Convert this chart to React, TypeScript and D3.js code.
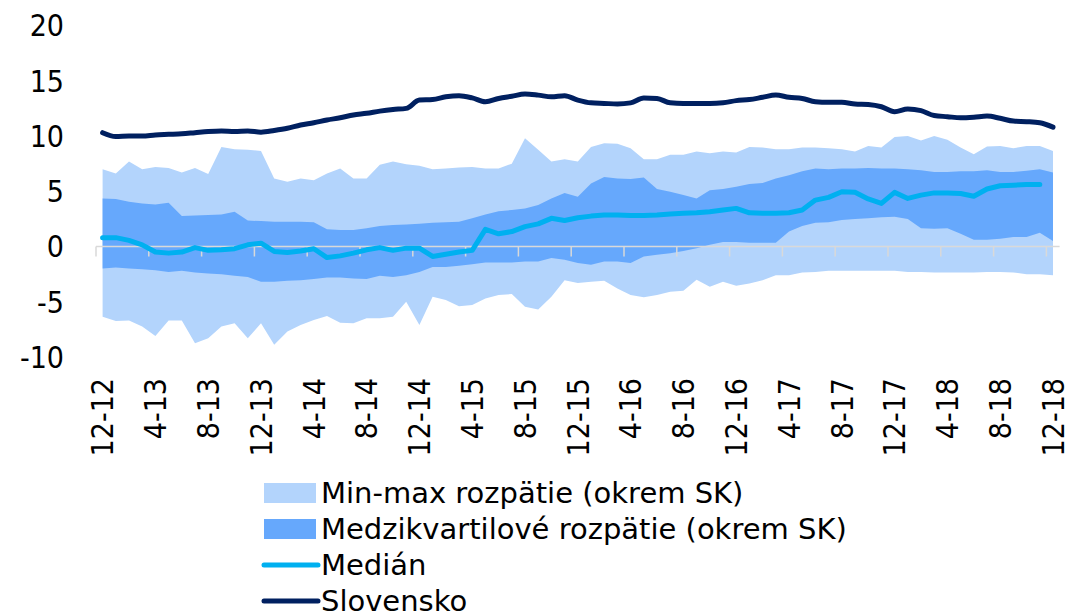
import React, { useEffect, useRef } from 'react';
import * as d3 from 'd3';

// monthly observations 12-2012 .. 12-2018
const months: string[] = [];
for (let y = 12; y <= 18; y++) {
  for (let m = 1; m <= 12; m++) {
    if (y === 12 && m < 12) continue;
    months.push(`${m}-${y}`);
  }
}

const rangeMax = [7.0, 6.6, 7.7, 7.0, 7.2, 7.1, 6.7, 7.1, 6.55, 9.0, 8.8, 8.75, 8.65, 6.15, 5.85, 6.15, 6.0, 6.6, 7.05, 6.15, 6.15, 7.4, 7.7, 7.45, 7.3, 7.0, 7.05, 7.15, 7.2, 7.05, 7.05, 7.5, 9.8, 8.75, 7.7, 7.9, 7.7, 9.0, 9.35, 9.3, 8.9, 7.9, 7.9, 8.3, 8.3, 8.6, 8.45, 8.6, 8.5, 9.0, 8.95, 8.8, 8.8, 8.95, 8.95, 8.9, 8.8, 8.6, 9.1, 8.95, 9.9, 10.0, 9.6, 10.0, 9.65, 8.95, 8.35, 9.05, 9.1, 8.9, 9.1, 9.1, 8.65];
const rangeMin = [-6.35, -6.75, -6.7, -7.25, -8.1, -6.7, -6.7, -8.75, -8.3, -7.25, -6.95, -8.3, -6.95, -8.9, -7.7, -7.1, -6.65, -6.3, -6.9, -6.95, -6.5, -6.5, -6.35, -5.0, -7.1, -4.55, -4.85, -5.4, -5.3, -4.7, -4.4, -4.3, -5.45, -5.7, -4.55, -3.05, -3.3, -3.2, -3.1, -3.8, -4.4, -4.6, -4.4, -4.1, -4.0, -3.0, -3.65, -3.2, -3.55, -3.35, -3.05, -2.6, -2.6, -2.35, -2.3, -2.2, -2.2, -2.2, -2.2, -2.2, -2.2, -2.3, -2.3, -2.35, -2.35, -2.35, -2.35, -2.3, -2.3, -2.35, -2.5, -2.5, -2.6];
const quart3 = [4.35, 4.3, 4.05, 3.9, 3.8, 3.95, 2.75, 2.8, 2.85, 2.9, 3.15, 2.35, 2.3, 2.25, 2.25, 2.25, 2.2, 1.55, 1.5, 1.5, 1.65, 1.85, 1.95, 2.0, 2.05, 2.15, 2.2, 2.25, 2.55, 2.9, 3.2, 3.3, 3.45, 3.75, 4.35, 4.85, 4.5, 5.7, 6.3, 6.15, 6.1, 6.25, 5.2, 4.95, 4.65, 4.35, 5.1, 5.2, 5.4, 5.65, 5.75, 6.15, 6.45, 6.8, 7.05, 7.0, 7.05, 7.05, 7.1, 7.05, 7.05, 7.0, 6.9, 6.75, 6.75, 6.8, 6.8, 6.9, 6.75, 6.75, 6.85, 7.0, 6.7];
const quart1 = [-2.0, -1.9, -2.0, -2.05, -2.15, -2.3, -2.2, -2.35, -2.45, -2.5, -2.65, -2.75, -3.2, -3.2, -3.1, -3.05, -2.95, -2.8, -2.8, -2.9, -2.95, -2.65, -2.75, -2.6, -2.3, -1.85, -1.85, -1.75, -1.6, -1.45, -1.45, -1.45, -1.35, -1.35, -1.05, -1.2, -1.5, -1.65, -1.35, -1.35, -1.5, -0.9, -0.75, -0.6, -0.4, -0.15, 0.15, 0.4, 0.4, 0.35, 0.35, 0.35, 1.35, 1.85, 2.15, 2.2, 2.4, 2.5, 2.55, 2.65, 2.7, 2.5, 1.65, 1.6, 1.65, 1.15, 0.6, 0.6, 0.7, 0.85, 0.85, 1.25, 0.5];
const median: (number | null)[] = [0.8, 0.8, 0.55, 0.15, -0.5, -0.6, -0.5, -0.1, -0.35, -0.3, -0.2, 0.15, 0.3, -0.45, -0.55, -0.4, -0.2, -1.0, -0.85, -0.6, -0.3, -0.1, -0.35, -0.15, -0.15, -0.9, -0.7, -0.5, -0.35, 1.55, 1.15, 1.35, 1.8, 2.05, 2.55, 2.35, 2.6, 2.75, 2.85, 2.85, 2.8, 2.8, 2.85, 2.95, 3.0, 3.05, 3.15, 3.3, 3.45, 3.05, 3.0, 3.0, 3.05, 3.3, 4.2, 4.45, 4.95, 4.9, 4.3, 3.9, 4.9, 4.35, 4.65, 4.85, 4.85, 4.8, 4.55, 5.2, 5.5, 5.55, 5.6, 5.6, null];
const slovensko = [10.3, 9.95, 10.0, 10.0, 10.1, 10.15, 10.2, 10.3, 10.4, 10.45, 10.4, 10.45, 10.35, 10.5, 10.7, 11.0, 11.2, 11.45, 11.65, 11.9, 12.05, 12.25, 12.4, 12.5, 13.25, 13.3, 13.55, 13.65, 13.45, 13.1, 13.4, 13.6, 13.8, 13.7, 13.55, 13.65, 13.25, 13.0, 12.95, 12.9, 13.0, 13.45, 13.4, 13.0, 12.95, 12.95, 12.95, 13.0, 13.2, 13.3, 13.5, 13.7, 13.5, 13.4, 13.1, 13.05, 13.05, 12.9, 12.85, 12.65, 12.2, 12.45, 12.3, 11.85, 11.75, 11.65, 11.7, 11.8, 11.6, 11.35, 11.3, 11.2, 10.8];

const yTicks = [-10, -5, 0, 5, 10, 15, 20];
const legendItems = [
  { label: 'Min-max rozpätie (okrem SK)', kind: 'rect', color: '#b3d4fc' },
  { label: 'Medzikvartilové rozpätie (okrem SK)', kind: 'rect', color: '#66a8fc' },
  { label: 'Medián', kind: 'line', color: '#00b0f0' },
  { label: 'Slovensko', kind: 'line', color: '#002060' },
];

const FONT = '"DejaVu Sans Condensed", "Liberation Sans Narrow", "DejaVu Sans", sans-serif';
const LEGEND_FONT = '"DejaVu Sans", sans-serif';

const App: React.FC = () => {
  const svgRef = useRef<SVGSVGElement>(null);

  useEffect(() => {
    if (!svgRef.current) return;
    const svg = d3.select(svgRef.current);
    svg.selectAll('*').remove();

    const x = d3.scaleBand<string>().domain(months).range([96, 1059.6]).paddingInner(0).paddingOuter(0);
    const cx = (i: number) => (x(months[i]) as number) + x.bandwidth() / 2;
    const y = d3.scaleLinear().domain([-10, 20]).range([357, 25.5]);

    const idx = months.map((_, i) => i);

    // min-max band
    const outer = d3.area<number>().x(i => cx(i)).y0(i => y(rangeMin[i])).y1(i => y(rangeMax[i]));
    svg.append('path').attr('d', outer(idx)).attr('fill', '#b3d4fc');

    // interquartile band
    const inner = d3.area<number>().x(i => cx(i)).y0(i => y(quart1[i])).y1(i => y(quart3[i]));
    svg.append('path').attr('d', inner(idx)).attr('fill', '#66a8fc');

    // category axis at zero
    const y0 = y(0);
    svg.append('line').attr('x1', 96).attr('x2', 1059.6).attr('y1', y0).attr('y2', y0)
      .attr('stroke', '#d9d9d9').attr('stroke-width', 1.5);
    idx.filter(i => i % 4 === 0).forEach(i => {
      const tx = x(months[i]) as number;
      svg.append('line').attr('x1', tx).attr('x2', tx).attr('y1', y0).attr('y2', y0 + 10)
        .attr('stroke', '#d9d9d9').attr('stroke-width', 1.5);
    });

    // median line
    const medLine = d3.line<number>().defined(i => median[i] != null).x(i => cx(i)).y(i => y(median[i] as number));
    svg.append('path').attr('d', medLine(idx)).attr('fill', 'none')
      .attr('stroke', '#00b0f0').attr('stroke-width', 5).attr('stroke-linejoin', 'round').attr('stroke-linecap', 'round');

    // Slovakia line
    const skLine = d3.line<number>().x(i => cx(i)).y(i => y(slovensko[i])).curve(d3.curveMonotoneX);
    svg.append('path').attr('d', skLine(idx)).attr('fill', 'none')
      .attr('stroke', '#002060').attr('stroke-width', 5).attr('stroke-linejoin', 'round').attr('stroke-linecap', 'round');

    // y tick labels
    svg.append('g').selectAll('text').data(yTicks).join('text')
      .attr('x', 64).attr('y', d => y(d)).attr('dy', '0.36em')
      .attr('text-anchor', 'end').attr('font-family', FONT).attr('font-size', 30).attr('fill', '#000')
      .text(d => String(d));

    // x tick labels, rotated
    svg.append('g').selectAll('text').data(idx.filter(i => i % 4 === 0)).join('text')
      .attr('transform', i => `translate(${cx(i)},378) rotate(-90)`)
      .attr('dy', '0.36em')
      .attr('text-anchor', 'end').attr('font-family', FONT).attr('font-size', 30).attr('fill', '#000')
      .text(i => months[i]);

    // legend
    const lg = svg.append('g');
    legendItems.forEach((it, k) => {
      const cy = 493 + k * 36;
      if (it.kind === 'rect') {
        lg.append('rect').attr('x', 264).attr('y', cy - 10).attr('width', 52).attr('height', 20).attr('fill', it.color);
      } else {
        lg.append('line').attr('x1', 264).attr('x2', 318).attr('y1', cy).attr('y2', cy)
          .attr('stroke', it.color).attr('stroke-width', 5).attr('stroke-linecap', 'round');
      }
      lg.append('text').attr('x', 321).attr('y', cy).attr('dy', '0.36em')
        .attr('font-family', LEGEND_FONT).attr('font-size', 29).attr('fill', '#000').text(it.label);
    });
  }, []);

  return (
    <svg ref={svgRef} width={1070} height={616}
      style={{ position: 'absolute', left: 0, top: 0, background: '#fff' }} />
  );
};

export default App;
